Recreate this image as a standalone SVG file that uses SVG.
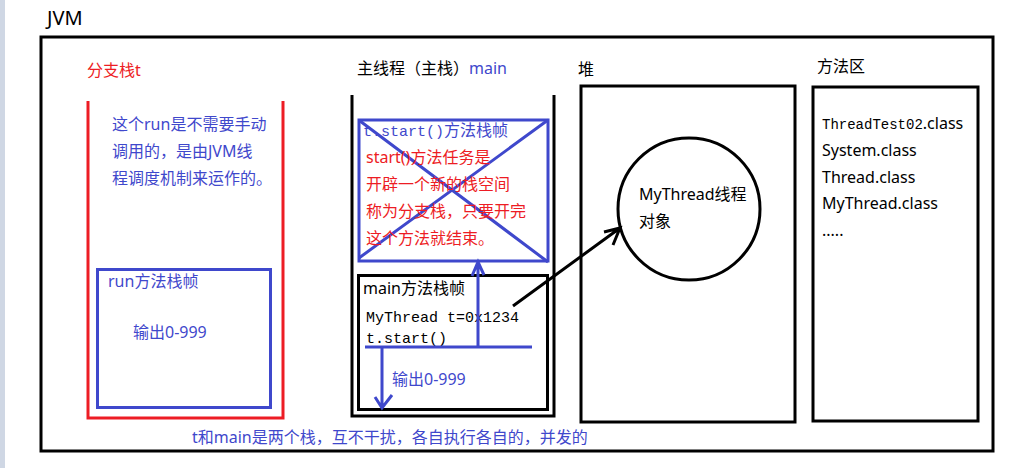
<svg xmlns="http://www.w3.org/2000/svg" width="1015" height="468" viewBox="0 0 1015 468">
<style>
.t{font-family:"Noto Sans","Noto Sans CJK SC",sans-serif;font-size:16px}
.m{font-family:"Liberation Mono","DejaVu Sans Mono",monospace;font-size:15px}
.k{fill:#000}.r{fill:#ed1c24}.b{fill:#3f48cc}
.sk{fill:none;stroke:#000;stroke-width:3}
.sb{fill:none;stroke:#3f48cc;stroke-width:3}
.sr{fill:none;stroke:#ed1c24;stroke-width:3}
</style>
<rect x="0" y="0" width="1015" height="468" fill="#fff"/>
<rect x="0" y="0" width="5" height="468" fill="#cfd7e4"/>
<g id="jvm">
<text x="47" y="25" class="t k" style="font-size:20px">JVM</text>
<rect x="41" y="37" width="952" height="414" class="sk"/>
</g>
<g id="branch-stack">
<text x="87" y="76" class="t r">分支栈t</text>
<path d="M88 101V418H283V101" class="sr"/>
<text class="t b"><tspan x="112" y="130">这个run是不需要手动</tspan><tspan x="112" y="157">调用的，是由JVM线</tspan><tspan x="112" y="184">程调度机制来运作的。</tspan></text>
</g>
<g id="run-frame">
<rect x="97.5" y="269.5" width="173" height="138" class="sb"/>
<text x="108" y="287" class="t b">run方法栈帧</text>
<text x="133" y="338" class="t b">输出0-999</text>
</g>
<g id="main-stack">
<text x="357" y="74" class="t k">主线程（主栈）<tspan class="b">main</tspan></text>
<path d="M352 95V416H554V95" class="sk"/>
</g>
<g id="start-frame">
<rect x="359" y="120" width="189" height="141" class="sb"/>
<path d="M360 121L548 262M548 120L359 258" class="sb"/>
<text x="363" y="136" class="b"><tspan class="m">t.start()</tspan><tspan class="t">方法栈帧</tspan></text>
<text class="t r"><tspan x="366" y="163">start()方法任务是</tspan><tspan x="366" y="190">开辟一个新的栈空间</tspan><tspan x="366" y="217">称为分支栈，只要开完</tspan><tspan x="366" y="244">这个方法就结束。</tspan></text>
</g>
<g id="main-frame">
<rect x="358.5" y="275.5" width="189" height="134" class="sk"/>
<text x="363" y="294" class="t k">main方法栈帧</text>
<text x="366" y="322" class="m k">MyThread t=0x1234</text>
<text x="366" y="343" class="m k">t.start()</text>
<text x="392" y="385" class="t b">输出0-999</text>
</g>
<g id="heap">
<text x="578" y="75" class="t k">堆</text>
<rect x="581" y="86" width="214" height="336" class="sk"/>
</g>
<g id="thread-object">
<circle cx="689" cy="209" r="71" class="sk"/>
<text class="t k"><tspan x="639" y="200">MyThread线程</tspan><tspan x="639" y="227">对象</tspan></text>
</g>
<g id="method-area">
<text x="817" y="72" class="t k">方法区</text>
<rect x="813" y="87" width="165" height="334" class="sk"/>
<text class="t k"><tspan x="822" y="129"><tspan class="m" style="font-size:14px">ThreadTest02</tspan>.class</tspan><tspan x="822" y="156">System.class</tspan><tspan x="822" y="183">Thread.class</tspan><tspan x="822" y="209">MyThread.class</tspan><tspan x="822" y="236">.....</tspan></text>
</g>
<g id="connectors">
<path d="M365 347H532M478 347V263M472 276L478 262L484 275" class="sb"/>
<path d="M382 347V408M375 397L382 408L392 395" class="sb"/>
<path d="M513 306L620 228M604 232L620 228L613 245" class="sk"/>
</g>
<text x="192" y="443" class="t b">t和main是两个栈，互不干扰，各自执行各自的，并发的</text>
</svg>
